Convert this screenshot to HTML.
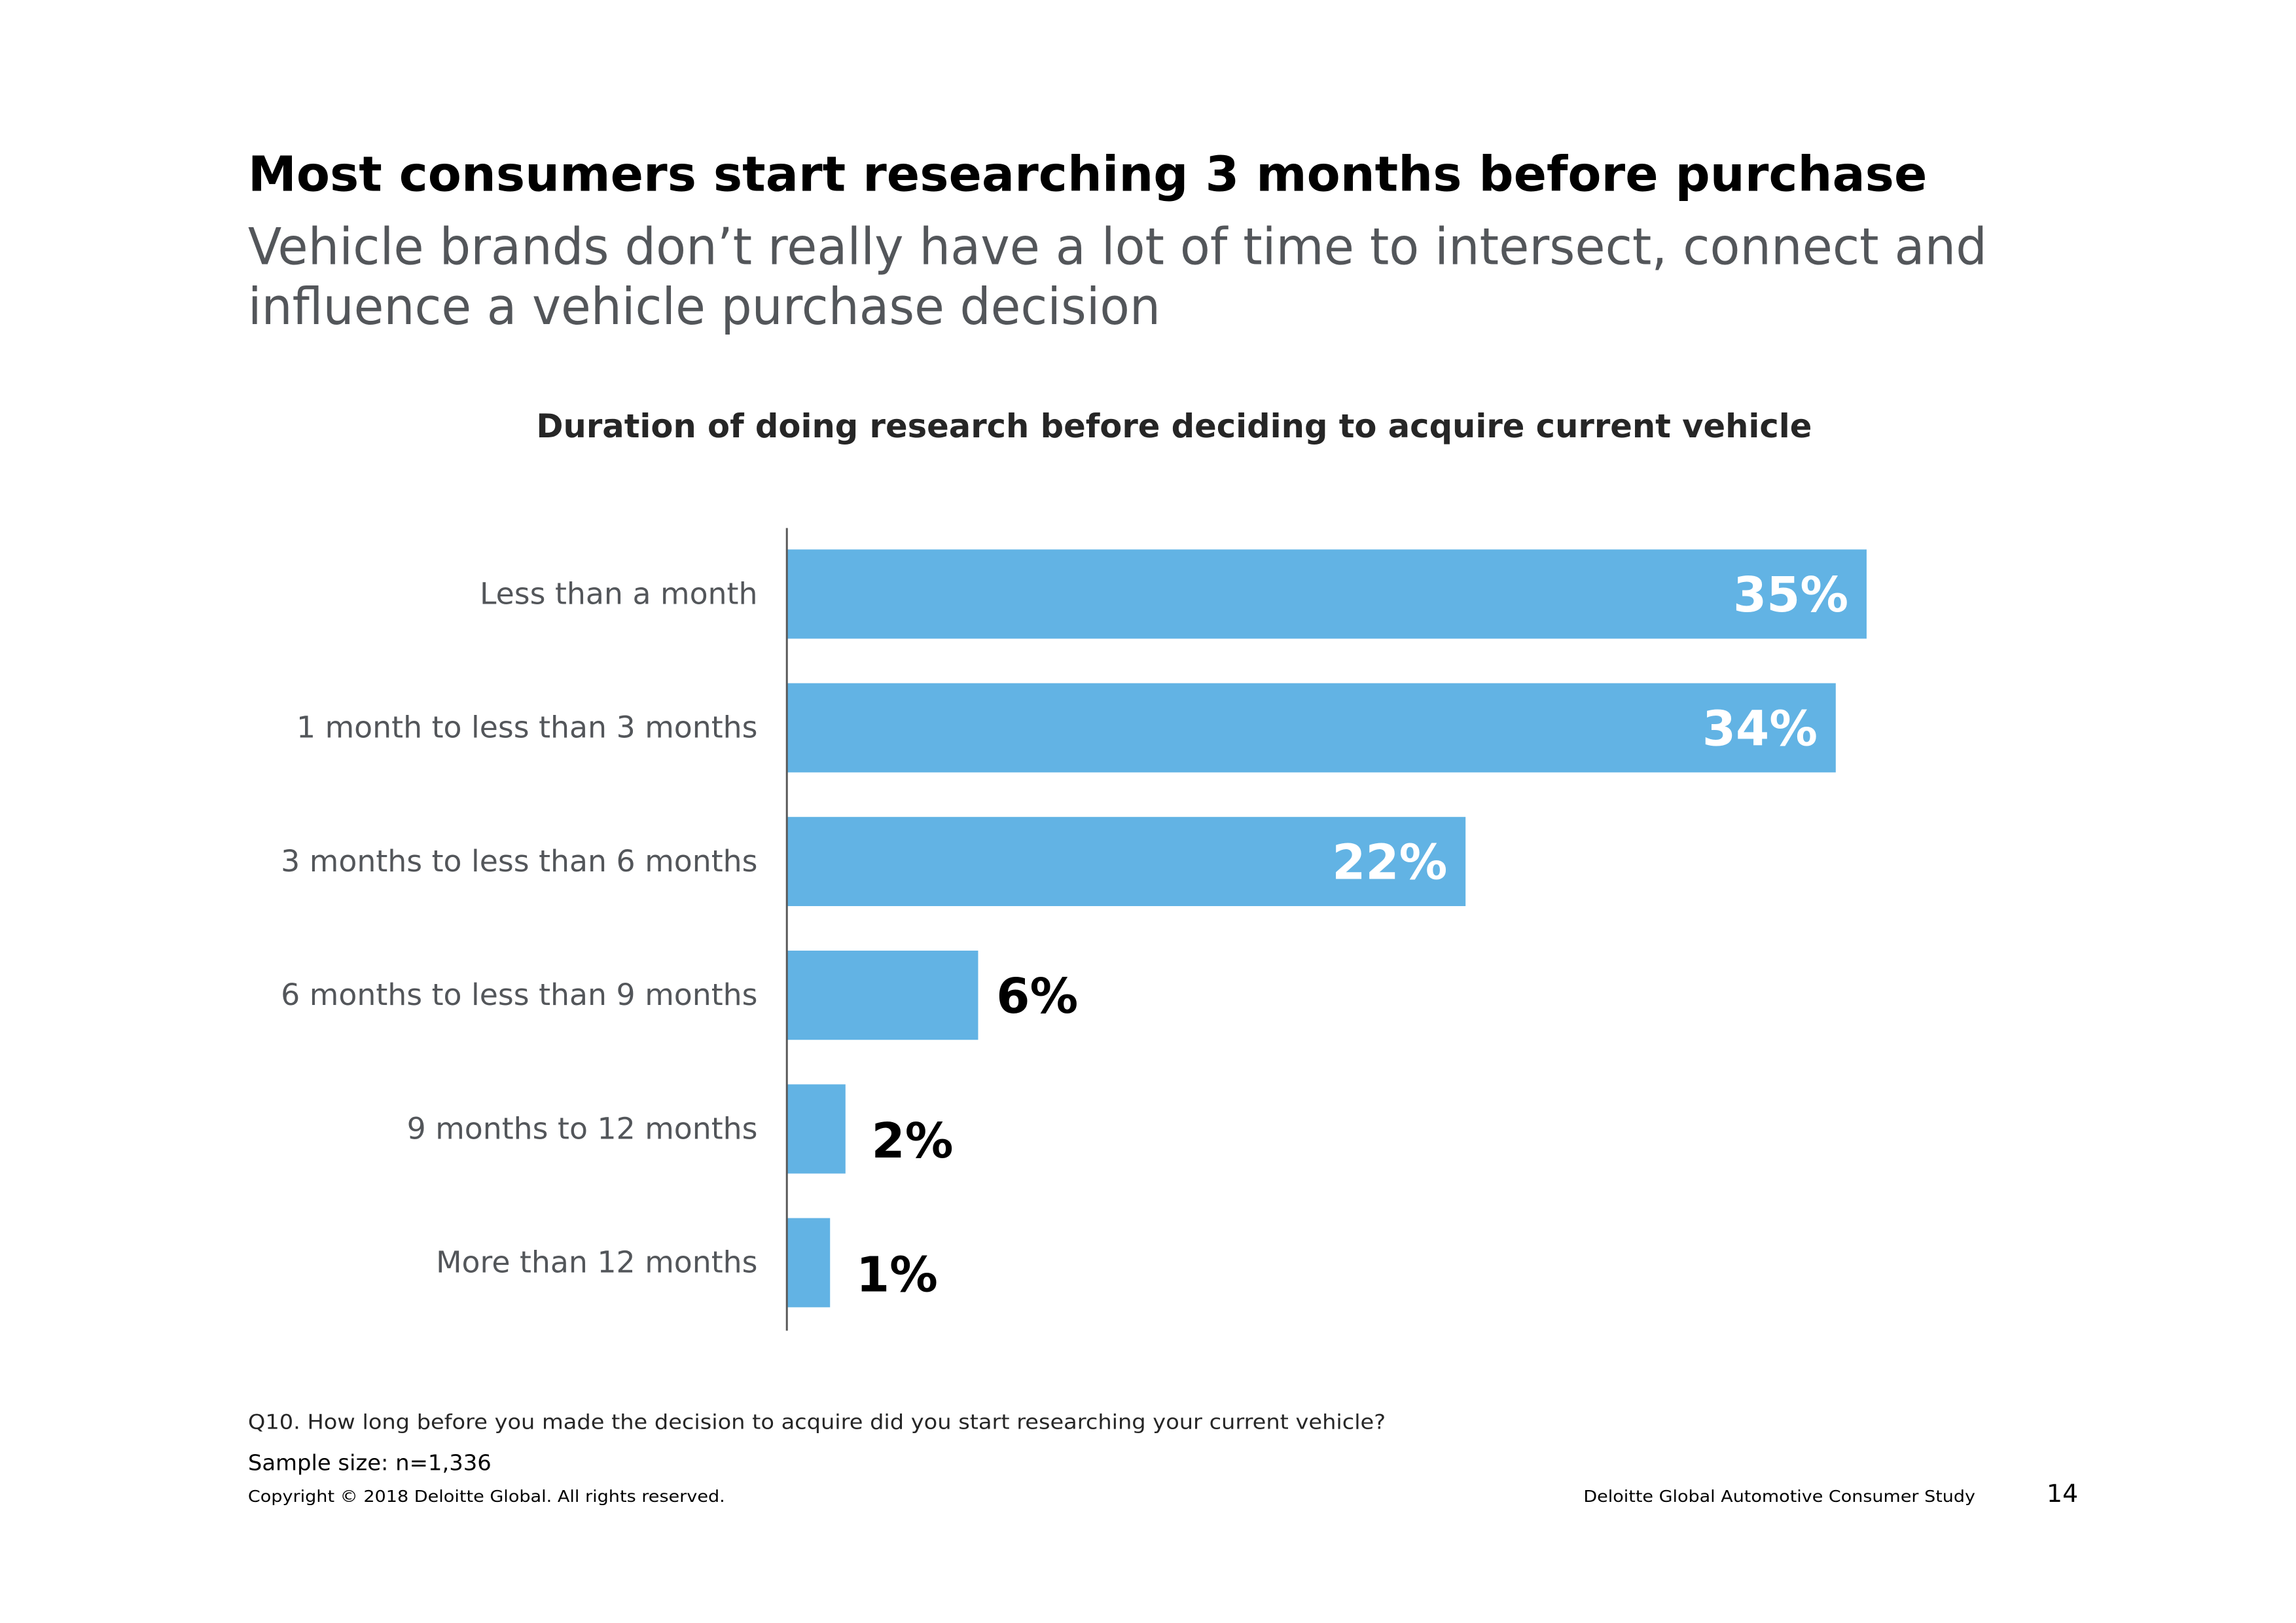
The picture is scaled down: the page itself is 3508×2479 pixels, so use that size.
<!DOCTYPE html>
<html><head><meta charset="utf-8"><style>
html,body{margin:0;padding:0;background:#fff;}
svg{display:block;font-family:"DejaVu Sans","Liberation Sans",sans-serif;}
</style></head><body>
<svg id="chart" width="3508" height="2479" viewBox="0 0 3508 2479" xmlns="http://www.w3.org/2000/svg">
<rect width="3508" height="2479" fill="#fff"/>
<g transform="scale(0.9944)">
<text x="381" y="293" font-size="74" font-weight="bold" fill="#000" textLength="2580" lengthAdjust="spacingAndGlyphs">Most consumers start researching 3 months before purchase</text>
<text x="381" y="406" font-size="78" fill="#53565a" textLength="2672" lengthAdjust="spacingAndGlyphs">Vehicle brands don’t really have a lot of time to intersect, connect and</text>
<text x="381" y="498" font-size="78" fill="#53565a" textLength="1402" lengthAdjust="spacingAndGlyphs">influence a vehicle purchase decision</text>
<text x="1804" y="672" font-size="50" font-weight="bold" fill="#262626" text-anchor="middle" textLength="1960" lengthAdjust="spacingAndGlyphs">Duration of doing research before deciding to acquire current vehicle</text>
<g id="bars"></g>
<line x1="1209" y1="811" x2="1209" y2="2044" stroke="#595959" stroke-width="3"/>
<text x="381" y="2195" font-size="31" fill="#262626" textLength="1748" lengthAdjust="spacingAndGlyphs">Q10. How long before you made the decision to acquire did you start researching your current vehicle?</text>
<text x="381" y="2258" font-size="33" fill="#000" textLength="374" lengthAdjust="spacingAndGlyphs">Sample size: n=1,336</text>
<text x="381" y="2307" font-size="25" fill="#000" textLength="733" lengthAdjust="spacingAndGlyphs">Copyright © 2018 Deloitte Global. All rights reserved.</text>
<text x="3035" y="2307" font-size="25" fill="#000" text-anchor="end" textLength="602" lengthAdjust="spacingAndGlyphs">Deloitte Global Automotive Consumer Study</text>
<text x="3193" y="2307" font-size="38" fill="#000" text-anchor="end">14</text>
</g>
</svg>
<script>
const categories = ["Less than a month","1 month to less than 3 months","3 months to less than 6 months","6 months to less than 9 months","9 months to 12 months","More than 12 months"];
const values = [35,34,22,6.2,1.9,1.4];
const valueLabels = ["35%","34%","22%","6%","2%","1%"];

const NS = "http://www.w3.org/2000/svg";
const x0 = 1209, pxPer = 47.4;
const y0 = 844, pitch = 205.4, barH = 137;
const xScale = v => x0 + v * pxPer;
const yScale = i => y0 + i * pitch;
const g = document.getElementById("bars");
categories.forEach((c, i) => {
  const y = yScale(i), w = xScale(values[i]) - x0, cy = y + barH / 2;
  const r = document.createElementNS(NS, "rect");
  r.setAttribute("x", x0); r.setAttribute("y", y);
  r.setAttribute("width", w); r.setAttribute("height", barH);
  r.setAttribute("fill", "#62b3e4");
  
  
  g.appendChild(r);
  const t = document.createElementNS(NS, "text");
  t.setAttribute("x", 1164); t.setAttribute("y", cy + 15);
  t.setAttribute("text-anchor", "end"); t.setAttribute("font-size", "46");
  t.setAttribute("fill", "#53565a");
  t.textContent = c;
  
  
  g.appendChild(t);
  const v = document.createElementNS(NS, "text");
  const inside = values[i] >= 15;
  v.setAttribute("font-size", "74"); v.setAttribute("font-weight", "bold");
  if (inside) {
    v.setAttribute("x", xScale(values[i]) - 28); v.setAttribute("text-anchor", "end");
    v.setAttribute("fill", "#fff"); v.setAttribute("y", cy + 27);
  } else {
    const small = values[i] < 4;
    v.setAttribute("x", xScale(values[i]) + (small ? 40 : 28)); v.setAttribute("fill", "#000");
    v.setAttribute("y", cy + (small ? 44 : 27));
  }
  v.textContent = valueLabels[i];
  
  
  g.appendChild(v);
});
</script>
</body></html>
